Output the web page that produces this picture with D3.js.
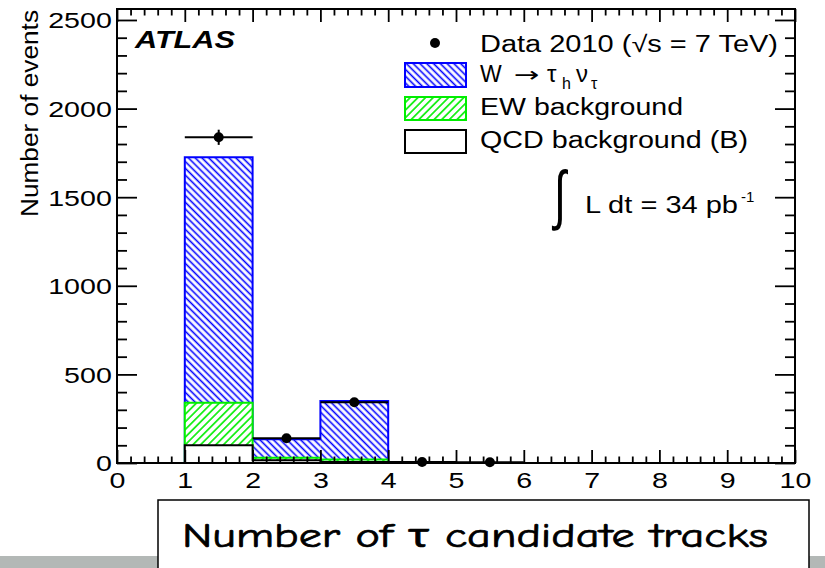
<!DOCTYPE html>
<html>
<head>
<meta charset="utf-8">
<script src="https://cdn.jsdelivr.net/npm/d3@7"></script>
<style>
  body { margin: 0; background: #fff; }
  svg { display: block; }
</style>
</head>
<body>
<svg id="chart" width="825" height="568"></svg>
<script>
// Histogram bins (lower edges) that carry simulated contributions
const binLow = [1, 2, 3];
const binWidth = 1;
// Stacked components per bin (events)
const qcdBkg = [100, 15, 5];
const ewBkg = [240, 15, 15];
const wTauNu = [1385, 104, 330];
// Data 2010: bin centres and counts
const dataX = [1.5, 2.5, 3.5, 4.5, 5.5];
const dataN = [1838, 140, 343, 6, 4];
// Axis ticks
const xMajor = [0, 1, 2, 3, 4, 5, 6, 7, 8, 9, 10];
const yMajor = [0, 500, 1000, 1500, 2000, 2500];

const svg = d3.select("#chart");
const L = 117, R = 795, T = 9, B = 463;
const x = d3.scaleLinear().domain([0, 10]).range([L, R]);
const y = d3.scaleLinear().domain([0, 2562]).range([B, T]);

const xMinor = d3.range(0, 10.0001, 0.2).filter(v => Math.abs(v - Math.round(v)) > 1e-6);
const yMinor = d3.range(0, 2562, 100).filter(v => v % 500 !== 0);

const FONT = "'Liberation Sans', Arial, Helvetica, sans-serif";

// hatch fills
const defs = svg.append("defs");
function hatch(id, color, angle, spacing, width) {
  const p = defs.append("pattern").attr("id", id)
    .attr("patternUnits", "userSpaceOnUse")
    .attr("width", spacing).attr("height", spacing)
    .attr("patternTransform", `rotate(${angle})`);
  p.append("rect").attr("width", spacing).attr("height", spacing).attr("fill", "#fff");
  p.append("line").attr("x1", spacing / 2).attr("y1", -1).attr("x2", spacing / 2).attr("y2", spacing + 1)
    .attr("stroke", color).attr("stroke-width", width);
}
hatch("hatchW", "#0000ff", -45, 4.8, 1.6);
hatch("hatchEW", "#00ee00", 45, 5.4, 1.6);

// cumulative stacks
const cumQCD = qcdBkg.slice();
const cumEW = qcdBkg.map((v, i) => v + ewBkg[i]);
const cumW = cumEW.map((v, i) => v + wTauNu[i]);

function stepPoints(vals) {
  const pts = [[binLow[0], 0]];
  vals.forEach((v, i) => {
    pts.push([binLow[i], v]);
    pts.push([binLow[i] + binWidth, v]);
  });
  pts.push([binLow[vals.length - 1] + binWidth, 0]);
  return pts;
}
const stepLine = d3.line().x(d => x(d[0])).y(d => y(d[1]));

function drawHist(vals, fill, stroke) {
  const g = svg.append("g");
  g.selectAll("rect").data(vals).join("rect")
    .attr("x", (d, i) => x(binLow[i]))
    .attr("width", (d, i) => x(binLow[i] + binWidth) - x(binLow[i]))
    .attr("y", d => y(d))
    .attr("height", d => y(0) - y(d))
    .attr("fill", fill);
  g.append("path").attr("d", stepLine(stepPoints(vals)))
    .attr("fill", "none").attr("stroke", stroke).attr("stroke-width", 2);
}
drawHist(cumW, "url(#hatchW)", "#0000ff");
drawHist(cumEW, "url(#hatchEW)", "#00ee00");
drawHist(cumQCD, "#fff", "#000");

// data points with errors
const gData = svg.append("g");
dataX.forEach((cx, i) => {
  const n = dataN[i], e = Math.sqrt(n);
  gData.append("line").attr("x1", x(cx - binWidth / 2)).attr("x2", x(cx + binWidth / 2))
    .attr("y1", y(n)).attr("y2", y(n)).attr("stroke", "#000").attr("stroke-width", 2);
  gData.append("line").attr("x1", x(cx)).attr("x2", x(cx))
    .attr("y1", y(n - e)).attr("y2", y(n + e)).attr("stroke", "#000").attr("stroke-width", 2);
  gData.append("circle").attr("cx", x(cx)).attr("cy", y(n)).attr("r", 5).attr("fill", "#000");
});

// axes, ROOT style: ticks inside on all four sides
const SX = 1.3;
function styleAxis(g) {
  g.select(".domain").remove();
  g.selectAll("line").attr("stroke", "#000").attr("stroke-width", 1.8);
}
const gxb = svg.append("g").attr("transform", `translate(0,${B})`)
  .call(d3.axisBottom(x).tickValues(xMajor).tickSize(-13).tickSizeOuter(0).tickPadding(9).tickFormat(d3.format("d")));
styleAxis(gxb);
gxb.selectAll("text").attr("font-family", FONT).attr("font-size", 22).attr("fill", "#000")
  .attr("transform", `scale(${SX},1)`);
const gxbm = svg.append("g").attr("transform", `translate(0,${B})`)
  .call(d3.axisBottom(x).tickValues(xMinor).tickSize(-6.5).tickSizeOuter(0).tickFormat(""));
styleAxis(gxbm);
const gxt = svg.append("g").attr("transform", `translate(0,${T})`)
  .call(d3.axisTop(x).tickValues(xMajor).tickSize(-13).tickSizeOuter(0).tickFormat(""));
styleAxis(gxt);
const gxtm = svg.append("g").attr("transform", `translate(0,${T})`)
  .call(d3.axisTop(x).tickValues(xMinor).tickSize(-6.5).tickSizeOuter(0).tickFormat(""));
styleAxis(gxtm);

const gyl = svg.append("g").attr("transform", `translate(${L},0)`)
  .call(d3.axisLeft(y).tickValues(yMajor).tickSize(-20).tickSizeOuter(0).tickPadding(4).tickFormat(d3.format("d")));
styleAxis(gyl);
gyl.selectAll("text").attr("font-family", FONT).attr("font-size", 22).attr("fill", "#000")
  .attr("transform", `scale(${SX},1)`).attr("dy", "0.36em");
const gylm = svg.append("g").attr("transform", `translate(${L},0)`)
  .call(d3.axisLeft(y).tickValues(yMinor).tickSize(-10).tickSizeOuter(0).tickFormat(""));
styleAxis(gylm);
const gyr = svg.append("g").attr("transform", `translate(${R},0)`)
  .call(d3.axisRight(y).tickValues(yMajor).tickSize(-20).tickSizeOuter(0).tickFormat(""));
styleAxis(gyr);
const gyrm = svg.append("g").attr("transform", `translate(${R},0)`)
  .call(d3.axisRight(y).tickValues(yMinor).tickSize(-10).tickSizeOuter(0).tickFormat(""));
styleAxis(gyrm);

// frame
svg.append("rect").attr("x", L).attr("y", T).attr("width", R - L).attr("height", B - T)
  .attr("fill", "none").attr("stroke", "#000").attr("stroke-width", 2);

// y-axis title
svg.append("text").attr("transform", "translate(38,10) rotate(-90)")
  .attr("text-anchor", "end").attr("font-family", FONT).attr("font-size", 23)
  .attr("textLength", 207).attr("lengthAdjust", "spacingAndGlyphs")
  .text("Number of events");

// ATLAS label
svg.append("text").attr("x", 135).attr("y", 48)
  .attr("font-family", FONT).attr("font-size", 24).attr("font-weight", "bold").attr("font-style", "italic")
  .attr("textLength", 100).attr("lengthAdjust", "spacingAndGlyphs").text("ATLAS");

// legend
const lg = svg.append("g").attr("font-family", FONT).attr("font-size", 23).attr("fill", "#000");
lg.append("circle").attr("cx", 435).attr("cy", 43).attr("r", 5).attr("fill", "#000");
lg.append("text").attr("x", 480).attr("y", 52)
  .attr("textLength", 298).attr("lengthAdjust", "spacingAndGlyphs").text("Data 2010 (√s = 7 TeV)");
lg.append("rect").attr("x", 405).attr("y", 63).attr("width", 61).attr("height", 24)
  .attr("fill", "url(#hatchW)").attr("stroke", "#0000ff").attr("stroke-width", 2);
// W → τh ντ, built from pieces
lg.append("text").attr("x", 480).attr("y", 82).text("W");
lg.append("text").attr("transform", "translate(514,82) scale(1.45,1)")
  .attr("font-family", "'DejaVu Sans', sans-serif").attr("font-size", 21).text("→");
lg.append("text").attr("x", 547).attr("y", 82).attr("font-size", 24).text("τ");
lg.append("text").attr("x", 562).attr("y", 89).attr("font-size", 16).text("h");
lg.append("text").attr("x", 576).attr("y", 82).attr("font-size", 24).text("ν");
lg.append("text").attr("x", 591).attr("y", 89).attr("font-size", 16).text("τ");
lg.append("rect").attr("x", 405).attr("y", 97).attr("width", 61).attr("height", 23)
  .attr("fill", "url(#hatchEW)").attr("stroke", "#00ee00").attr("stroke-width", 2);
lg.append("text").attr("x", 480).attr("y", 115)
  .attr("textLength", 203).attr("lengthAdjust", "spacingAndGlyphs").text("EW background");
lg.append("rect").attr("x", 405).attr("y", 130).attr("width", 61).attr("height", 23)
  .attr("fill", "#fff").attr("stroke", "#000").attr("stroke-width", 2);
lg.append("text").attr("x", 480).attr("y", 148)
  .attr("textLength", 268).attr("lengthAdjust", "spacingAndGlyphs").text("QCD background (B)");

// integrated luminosity
const lum = svg.append("g").attr("font-family", FONT).attr("fill", "#000");
lum.append("text").attr("transform", "translate(554,217) scale(0.7,1.05)")
  .attr("font-size", 62).attr("font-family", "'DejaVu Sans', sans-serif").attr("font-weight", 300).text("∫");
lum.append("text").attr("x", 585).attr("y", 213).attr("font-size", 23)
  .attr("textLength", 153).attr("lengthAdjust", "spacingAndGlyphs").text("L dt = 34 pb");
lum.append("text").attr("x", 741).attr("y", 202).attr("font-size", 15).text("-1");

// backdrop strip and x-axis title box
svg.append("rect").attr("x", 0).attr("y", 556).attr("width", 825).attr("height", 12).attr("fill", "#b3b8b6");
svg.append("rect").attr("x", 158).attr("y", 500).attr("width", 651).attr("height", 80)
  .attr("fill", "#fff").attr("stroke", "#000").attr("stroke-width", 1.5);
svg.append("text").attr("x", 182).attr("y", 547)
  .attr("font-family", "'Comic Sans MS', 'Comic Neue', Lato, sans-serif").attr("font-size", 34)
  .attr("stroke", "#000").attr("stroke-width", 0.7)
  .attr("textLength", 586).attr("lengthAdjust", "spacingAndGlyphs")
  .text("Number of τ candidate tracks");
</script>
</body>
</html>
